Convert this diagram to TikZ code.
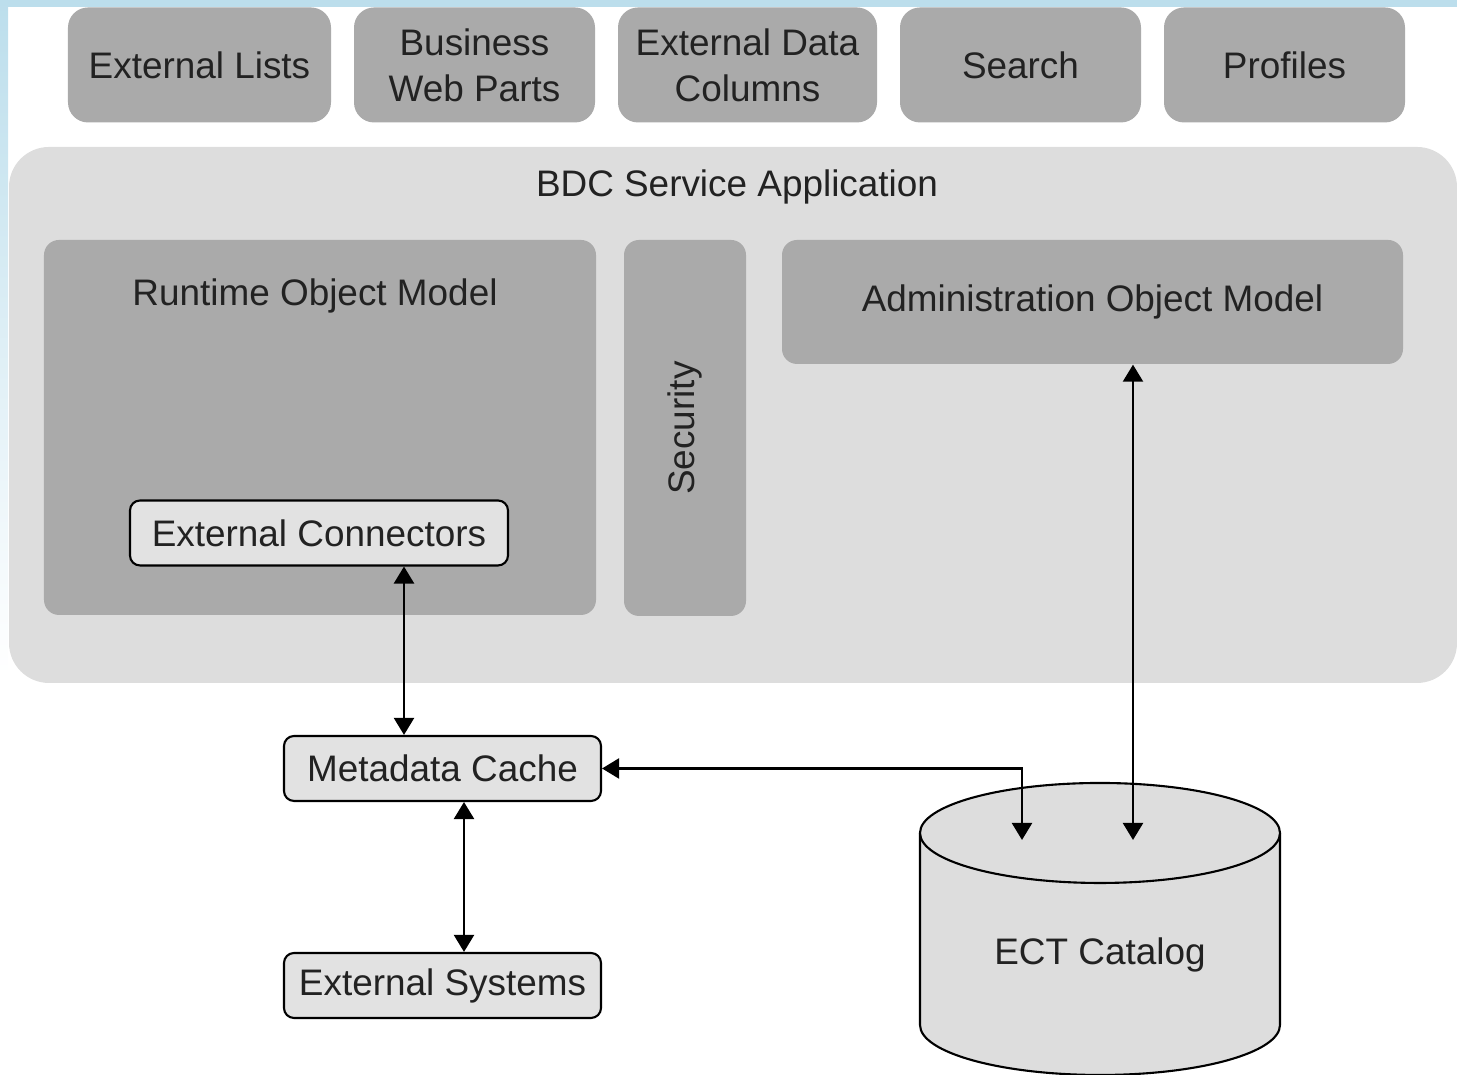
\documentclass[tikz,border=0pt]{standalone}
\usepackage{fontspec}
\setmainfont{Liberation Sans}
\usetikzlibrary{arrows.meta}

\definecolor{framblue}{RGB}{188,222,236}
\definecolor{darkbox}{RGB}{170,170,170}
\definecolor{lightbox}{RGB}{221,221,221}
\definecolor{palebox}{RGB}{226,226,226}
\definecolor{inkgray}{RGB}{34,34,34}

\begin{document}
\begin{tikzpicture}[
    font=\fontsize{10.5}{13}\selectfont, text=inkgray,
    topbox/.style={fill=darkbox, rounded corners=0.2cm, minimum height=1.15cm, align=center, inner sep=0pt},
    innerbox/.style={fill=darkbox, rounded corners=0.15cm, inner sep=0pt},
    smallbox/.style={draw=black, line width=0.6pt, fill=palebox, rounded corners=0.1cm, minimum height=0.65cm, inner sep=0pt},
    conn/.style={line width=0.65pt, {Triangle[length=0.17cm,width=0.2cm]}-{Triangle[length=0.17cm,width=0.2cm]}}
  ]
    \useasboundingbox (0,0) rectangle (14.57,10.75);

    % frame
    \fill[framblue] (0,10.68) rectangle (14.57,10.75);
    \shade[top color=framblue, bottom color=white] (0,4) rectangle (0.08,10.75);

    % top row
    \node[topbox, minimum width=2.63cm] (extlists) at (1.995,10.1) {External Lists};
    \node[topbox, minimum width=2.41cm] (bizweb) at (4.745,10.1) {Business\\Web Parts};
    \node[topbox, minimum width=2.59cm] (extdata) at (7.475,10.1) {External Data\\Columns};
    \node[topbox, minimum width=2.41cm] (search) at (10.205,10.1) {Search};
    \node[topbox, minimum width=2.41cm] (profiles) at (12.845,10.1) {Profiles};

    % service application
    \node[fill=lightbox, rounded corners=0.4cm, minimum width=14.48cm, minimum height=5.36cm, inner sep=0pt] (bdc) at (7.33,6.6) {};
    \node (bdctitle) at (7.37,8.88) {BDC Service Application};

    \node[innerbox, minimum width=5.52cm, minimum height=3.75cm] (runtime) at (3.2,6.475) {};
    \node (runtimetitle) at (3.15,7.79) {Runtime Object Model};
    \node[smallbox, minimum width=3.78cm] (extconn) at (3.19,5.42) {External Connectors};

    \node[innerbox, minimum width=1.22cm, minimum height=3.76cm] (security) at (6.85,6.47) {};
    \node[rotate=90] (securitytitle) at (6.85,6.47) {Security};

    \node[innerbox, minimum width=6.21cm, minimum height=1.24cm] (admin) at (10.925,7.73) {Administration Object Model};

    % lower part
    \node[smallbox, minimum width=3.17cm] (meta) at (4.425,3.065) {Metadata Cache};
    \node[smallbox, minimum width=3.17cm] (extsys) at (4.425,0.895) {External Systems};

    % catalog
    \draw[line width=0.6pt, fill=lightbox] (9.2,2.42) -- (9.2,0.5) arc[start angle=180, end angle=360, x radius=1.8cm, y radius=0.5cm] -- (12.8,2.42);
    \draw[line width=0.6pt, fill=lightbox] (11,2.42) ellipse[x radius=1.8cm, y radius=0.5cm];
    \node (ect) at (11,1.2) {ECT Catalog};
    \coordinate (ectin1) at (10.22,2.35);
    \coordinate (ectin2) at (11.33,2.35);

    \draw[conn] ([xshift=0.85cm]extconn.south) -- ([xshift=-0.385cm]meta.north);
    \draw[conn] ([xshift=0.215cm]meta.south) -- ([xshift=0.215cm]extsys.north);
    \draw[conn] (meta.east) -- (meta.east -| ectin1) -- (ectin1);
    \draw[conn] ([xshift=0.405cm]admin.south) -- (ectin2);

\end{tikzpicture}
\end{document}
